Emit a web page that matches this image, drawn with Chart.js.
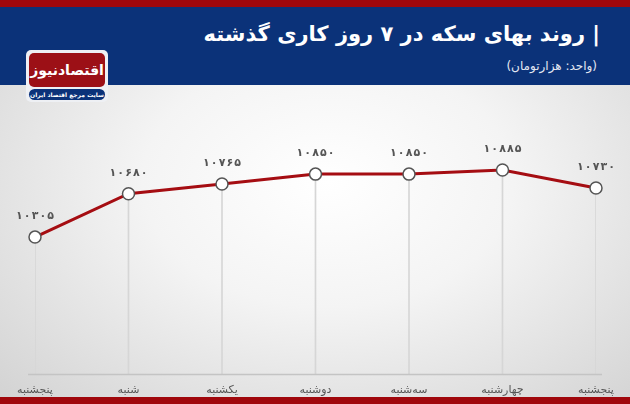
<!DOCTYPE html>
<html>
<head>
<meta charset="utf-8">
<script src="https://cdn.jsdelivr.net/npm/chart.js@4.4.1/dist/chart.umd.min.js"></script>
<style>
  body { margin: 0; width: 630px; height: 404px; overflow: hidden; font-family: "DejaVu Sans", sans-serif; }
  #wrap { position: relative; width: 630px; height: 404px;
    background: radial-gradient(ellipse at 52% 45%, #ffffff 0%, #f4f4f4 40%, #d2d2d2 100%); }
  #topRed { position: absolute; left: 0; top: 0; width: 630px; height: 7px; background: #a0070c; }
  #header { position: absolute; left: 0; top: 7px; width: 630px; height: 78px; background: #0b3279; }
  #title { position: absolute; right: 30px; top: 15px; color: #fff; font-size: 21px; font-weight: bold; direction: rtl; white-space: nowrap; }
  #sub { position: absolute; right: 33px; top: 52px; color: #e4e8f2; font-size: 12px; direction: rtl; white-space: nowrap; }
  #logo { position: absolute; left: 26px; top: 50px; width: 82px; height: 52px; background: #eef0f4; border-radius: 5px; }
  #logoRed { position: absolute; left: 3px; top: 3px; width: 76px; height: 34px; background: #9c1016; border-radius: 5px;
    color: #fff; font-weight: bold; font-size: 14px; text-align: center; line-height: 34px; direction: rtl; white-space: nowrap; }
  #logoBlue { position: absolute; left: 3px; top: 39px; width: 76px; height: 11px; background: #0b3279; border-radius: 6px;
    color: #fff; font-size: 6px; font-weight: bold; text-align: center; line-height: 11px; direction: rtl; white-space: nowrap; overflow: hidden; }
  #botRed { position: absolute; left: 0; top: 397px; width: 630px; height: 7px; background: #a0070c; }
  #chart { position: absolute; left: 0; top: 0; }
</style>
</head>
<body>
<div id="wrap">
  <div id="topRed"></div>
  <div id="header">
    <div id="title">| روند بهای سکه در ۷ روز کاری گذشته</div>
    <div id="sub">(واحد: هزارتومان)</div>
  </div>
  <div id="logo">
    <div id="logoRed">اقتصادنیوز</div>
    <div id="logoBlue">سایت مرجع اقتصاد ایران</div>
  </div>
  <div id="botRed"></div>
  <canvas id="chart" width="630" height="404"></canvas>
</div>
<script>
// Data
const days = ['پنجشنبه', 'شنبه', 'یکشنبه', 'دوشنبه', 'سه‌شنبه', 'چهارشنبه', 'پنجشنبه'];
const coinPrice = [10305, 10680, 10765, 10850, 10850, 10885, 10730];

function toPersian(n) {
    return String(n).replace(/\d/g, d => '۰۱۲۳۴۵۶۷۸۹'[d]);
}

// axis line a bit wider than the plotted range, and value labels above points
const extras = {
    id: 'extras',
    afterDatasetsDraw(chart) {
        const ctx = chart.ctx;
        const area = chart.chartArea;
        ctx.save();
        ctx.strokeStyle = '#c4c4c4';
        ctx.lineWidth = 1.5;
        ctx.beginPath();
        ctx.moveTo(28, area.bottom + 0.5);
        ctx.lineTo(602, area.bottom + 0.5);
        ctx.stroke();

        const meta = chart.getDatasetMeta(1);
        ctx.fillStyle = '#555';
        ctx.font = 'bold 11px "DejaVu Sans"';
        ctx.textAlign = 'center';
        ctx.textBaseline = 'middle';
        meta.data.forEach((pt, i) => {
            const txt = toPersian(coinPrice[i]).split('').join(String.fromCharCode(8202));
            ctx.fillText(txt, pt.x, pt.y - 21);
        });
        ctx.restore();
    }
};

new Chart(document.getElementById('chart'), {
    data: {
        labels: days,
        datasets: [{
            type: 'bar',
            data: coinPrice,
            backgroundColor: '#d6d6d6',
            barThickness: 1,
            order: 2
        }, {
            type: 'line',
            data: coinPrice,
            borderColor: '#a50d12',
            borderWidth: 3,
            pointRadius: 6,
            pointBorderWidth: 1.5,
            pointBorderColor: '#555',
            pointBackgroundColor: '#fff',
            tension: 0,
            order: 1
        }]
    },
    plugins: [extras],
    options: {
        responsive: false,
        animation: false,
        layout: { padding: { left: 35, right: 34, top: 110, bottom: 0 } },
        plugins: { legend: { display: false }, tooltip: { enabled: false } },
        scales: {
            x: {
                offset: false,
                grid: { display: false },
                border: { display: false },
                ticks: { color: '#555', font: { family: 'DejaVu Sans', size: 11 }, padding: 2, maxRotation: 0 },
                afterFit(axis) { axis.height = 30; }
            },
            y: {
                display: false,
                min: 9120,
                max: 11405
            }
        }
    }
});
</script>
</body>
</html>
